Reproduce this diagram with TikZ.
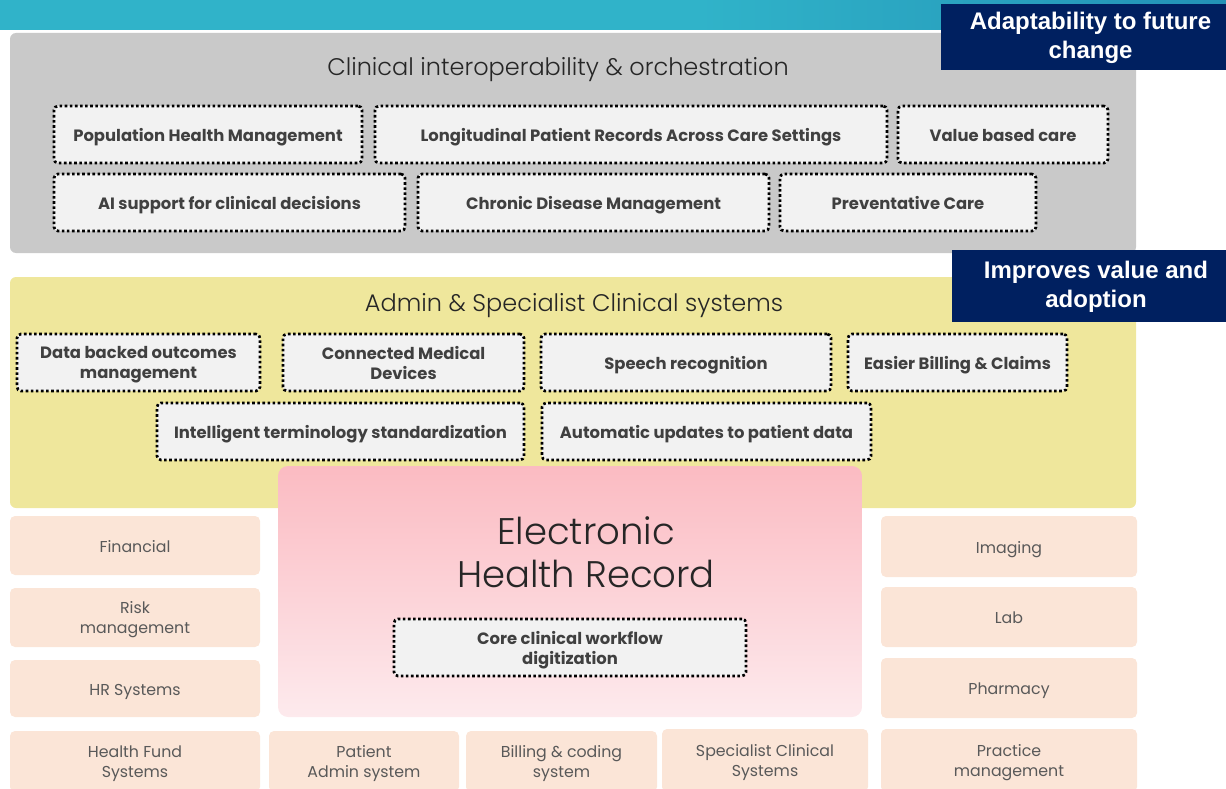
\documentclass[tikz,border=0pt]{standalone}
\usepackage{fontspec}
\setmainfont{Poppins}
\IfFontExistsTF{Poppins Light}{\newfontfamily\lightfont{Poppins Light}}{\newfontfamily\lightfont{Poppins}}
\newfontfamily\arialfont{Liberation Sans}
\definecolor{tealA}{RGB}{48,179,201}
\definecolor{tealB}{RGB}{35,146,182}
\definecolor{grayP}{RGB}{201,201,201}
\definecolor{yellowP}{RGB}{239,231,156}
\definecolor{peachP}{RGB}{251,229,215}
\definecolor{dotfill}{RGB}{242,242,242}
\definecolor{dottext}{RGB}{64,64,64}
\definecolor{peachtext}{RGB}{89,89,89}
\definecolor{titletext}{RGB}{38,38,38}
\definecolor{navyP}{RGB}{0,32,96}
\definecolor{ehrTop}{RGB}{251,187,194}
\definecolor{ehrBot}{RGB}{253,234,237}
% #1 box style, #2 text style, #3 name, #4-#7 x1 y1 x2 y2, #8 text
\newcommand\bnode[8]{%
  \node[#1, minimum width={(#6-#4)*1pt}, minimum height={(#7-#5)*1pt}, inner sep=0pt, outer sep=0pt] (#3) at ({(#4+#6)/2},{(#5+#7)/2}) {};
  \node[#2, inner sep=0pt, execute at begin node=\strut, execute at end node=\strut] (#3-t) at ([yshift=-3pt]#3.center) {#8};}
\begin{document}
\begin{tikzpicture}[x=1pt,y=-1pt,
  panel/.style={rectangle, rounded corners=6pt, draw=none},
  dotbox/.style={rectangle, draw=black, fill=dotfill, line width=2.7pt, dash pattern=on 2.6pt off 2.5pt, rounded corners=4pt},
  dottxt/.style={font=\fontsize{16.4}{20}\selectfont\bfseries, text=dottext, align=center},
  peachbox/.style={rectangle, fill=peachP, rounded corners=5pt},
  peachtxt/.style={font=\fontsize{15.8}{19.5}\selectfont, text=peachtext, align=center},
  navybox/.style={rectangle, fill=navyP},
  navytxt/.style={text=white, font=\arialfont\bfseries\fontsize{24}{29}\selectfont, align=center},
  paneltitle/.style={font=\lightfont\fontsize{24}{28}\selectfont, text=titletext, inner sep=0pt}
]
\useasboundingbox (0,0) rectangle (1226,789);
\clip (0,0) rectangle (1226,789);
% top bar
\fill[tealA] (0,0) rectangle (700,30);
\shade[left color=tealA, right color=tealB] (699,0) rectangle (1226,30);
% panels
\node[panel, fill=grayP, minimum width=1126pt, minimum height=220pt, inner sep=0pt] (clin) at (573,143) {};
\node[paneltitle] (clintitle) at (558,70) {Clinical interoperability \& orchestration};
\node[panel, fill=yellowP, minimum width=1126pt, minimum height=231pt, inner sep=0pt] (admin) at (573,392.5) {};
\node[paneltitle] (admintitle) at (574,306) {Admin \& Specialist Clinical systems};
% clinical dotted boxes
\bnode{dotbox}{dottxt}{phm}{54}{106}{362}{163}{Population Health Management}
\bnode{dotbox}{dottxt}{lpr}{375}{106}{887}{163}{Longitudinal Patient Records Across Care Settings}
\bnode{dotbox}{dottxt}{vbc}{898}{106}{1108}{163}{Value based care}
\bnode{dotbox}{dottxt}{ai}{54}{174}{405}{231}{AI support for clinical decisions}
\bnode{dotbox}{dottxt}{cdm}{418}{174}{769}{231}{Chronic Disease Management}
\bnode{dotbox}{dottxt}{pc}{780}{174}{1036}{231}{Preventative Care}
% admin dotted boxes
\bnode{dotbox}{dottxt}{dbo}{17}{334}{260}{391}{Data backed outcomes\\management}
\bnode{dotbox}{dottxt}{cmd}{283}{334}{524}{391}{Connected Medical\\Devices}
\bnode{dotbox}{dottxt}{sr}{541}{334}{831}{391}{Speech recognition}
\bnode{dotbox}{dottxt}{ebc}{848}{334}{1067}{391}{Easier Billing \& Claims}
\bnode{dotbox}{dottxt}{its}{157}{403}{524}{460}{Intelligent terminology standardization}
\bnode{dotbox}{dottxt}{aup}{542}{403}{871}{460}{Automatic updates to patient data}
% EHR
\shade[top color=ehrTop, bottom color=ehrBot, rounded corners=10pt] (278,466) rectangle (862,717);
\node[font=\lightfont\fontsize{37}{43}\selectfont, text=titletext, align=center, inner sep=0pt] (ehr) at (586,552) {Electronic\\Health Record};
\bnode{dotbox}{dottxt}{core}{394}{619}{746}{676}{Core clinical workflow\\digitization}
% left peach boxes
\bnode{peachbox}{peachtxt}{fin}{10}{516}{260}{575}{Financial}
\bnode{peachbox}{peachtxt}{risk}{10}{588}{260}{647}{Risk\\management}
\bnode{peachbox}{peachtxt}{hr}{10}{660}{260}{717}{HR Systems}
\bnode{peachbox}{peachtxt}{hfs}{10}{731}{260}{792}{Health Fund\\Systems}
% bottom peach boxes
\bnode{peachbox}{peachtxt}{pas}{269}{731}{459}{792}{Patient\\Admin system}
\bnode{peachbox}{peachtxt}{bcs}{466}{731}{657}{792}{Billing \& coding\\system}
\bnode{peachbox}{peachtxt}{scs}{662}{729}{868}{792}{Specialist Clinical\\Systems}
% right peach boxes
\bnode{peachbox}{peachtxt}{img}{881}{516}{1137}{577}{Imaging}
\bnode{peachbox}{peachtxt}{lab}{881}{587}{1137}{647}{Lab}
\bnode{peachbox}{peachtxt}{pha}{881}{658}{1137}{718}{Pharmacy}
\bnode{peachbox}{peachtxt}{pm}{881}{729}{1137}{792}{Practice\\management}
% navy labels
\bnode{navybox}{navytxt}{adapt}{941}{4}{1240}{70}{Adaptability to future\\change}
\bnode{navybox}{navytxt}{value}{952}{250}{1240}{322}{Improves value and\\adoption}
\end{tikzpicture}
\end{document}
